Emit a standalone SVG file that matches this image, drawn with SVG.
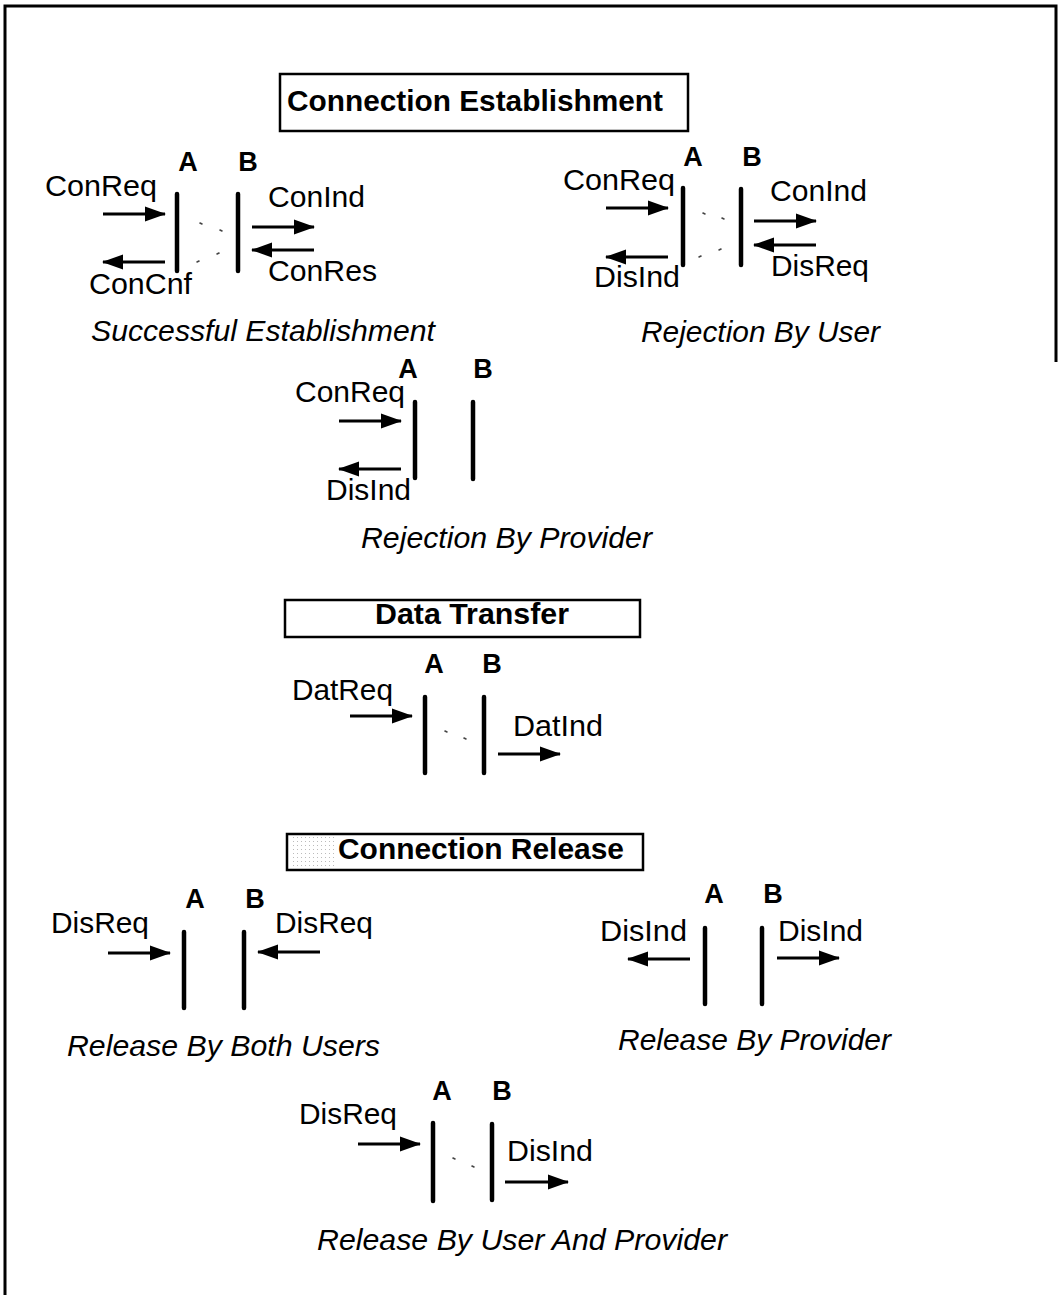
<svg xmlns="http://www.w3.org/2000/svg" width="1059" height="1295" viewBox="0 0 1059 1295">
  <defs>
    <marker id="head" markerUnits="userSpaceOnUse" markerWidth="21" markerHeight="16" refX="20" refY="8" orient="auto">
      <path d="M0,0.5 L21,8 L0,15.5 z" fill="#000"/>
    </marker>
    <pattern id="stipple" width="4" height="4" patternUnits="userSpaceOnUse">
      <rect x="1" y="1" width="1" height="1" fill="#bbb"/>
    </pattern>
    <style>
      .frame { fill: none; stroke: #000; stroke-width: 3; }
      .title-box { fill: #fff; stroke: #000; stroke-width: 2.5; }
      .title { font-family: "Liberation Sans", Arial, sans-serif; font-weight: bold; font-size: 29px; fill: #000; }
      .ab { font-family: "Liberation Sans", Arial, sans-serif; font-weight: bold; font-size: 27px; fill: #000; text-anchor: middle; }
      .lbl { font-family: "Liberation Sans", Arial, sans-serif; font-size: 29px; fill: #000; }
      .cap { font-family: "Liberation Sans", Arial, sans-serif; font-style: italic; font-size: 29px; fill: #000; }
      .bar { stroke: #000; stroke-width: 4.5; stroke-linecap: round; }
      .arrow { stroke: #000; stroke-width: 3; fill: none; marker-end: url(#head); }
      .dot { stroke: #444; stroke-width: 1.6; stroke-linecap: round; }
    </style>
  </defs>

  <rect width="1059" height="1295" fill="#fff"/>

  <!-- outer frame: top, left and upper right edge -->
  <path class="frame" d="M5,1295 L5,6 L1056,6 L1056,362"/>

  <!-- section headings -->
  <g id="heading-establishment">
    <rect class="title-box" x="280" y="74" width="408" height="57"/>
    <text class="title" x="287" y="111" textLength="376" lengthAdjust="spacingAndGlyphs">Connection Establishment</text>
  </g>
  <g id="heading-transfer">
    <rect class="title-box" x="285" y="600" width="355" height="37"/>
    <text class="title" x="375" y="624" textLength="194" lengthAdjust="spacingAndGlyphs">Data Transfer</text>
  </g>
  <g id="heading-release">
    <rect class="title-box" x="287" y="834" width="356" height="36"/>
    <rect x="290" y="837" width="46" height="30" fill="url(#stipple)"/>
    <text class="title" x="338" y="859" textLength="286" lengthAdjust="spacingAndGlyphs">Connection Release</text>
  </g>

  <!-- Successful Establishment -->
  <g id="successful-establishment">
    <text class="ab" x="188" y="171">A</text>
    <text class="ab" x="248" y="171">B</text>
    <line class="bar" x1="177" y1="194" x2="177" y2="271"/>
    <line class="bar" x1="238" y1="194" x2="238" y2="271"/>
    <text class="lbl" x="45" y="196" textLength="112" lengthAdjust="spacingAndGlyphs">ConReq</text>
    <text class="lbl" x="89" y="294" textLength="103" lengthAdjust="spacingAndGlyphs">ConCnf</text>
    <text class="lbl" x="268" y="207" textLength="97" lengthAdjust="spacingAndGlyphs">ConInd</text>
    <text class="lbl" x="268" y="281" textLength="109" lengthAdjust="spacingAndGlyphs">ConRes</text>
    <text class="cap" x="91" y="341" textLength="344" lengthAdjust="spacingAndGlyphs">Successful Establishment</text>
  </g>

  <!-- Rejection By User -->
  <g id="rejection-by-user">
    <text class="ab" x="693" y="166">A</text>
    <text class="ab" x="752" y="166">B</text>
    <line class="bar" x1="683" y1="188" x2="683" y2="265"/>
    <line class="bar" x1="741" y1="189" x2="741" y2="265"/>
    <text class="lbl" x="563" y="190" textLength="112" lengthAdjust="spacingAndGlyphs">ConReq</text>
    <text class="lbl" x="594" y="287" textLength="86" lengthAdjust="spacingAndGlyphs">DisInd</text>
    <text class="lbl" x="770" y="201" textLength="97" lengthAdjust="spacingAndGlyphs">ConInd</text>
    <text class="lbl" x="771" y="276" textLength="98" lengthAdjust="spacingAndGlyphs">DisReq</text>
    <text class="cap" x="641" y="342" textLength="239" lengthAdjust="spacingAndGlyphs">Rejection By User</text>
  </g>

  <!-- Rejection By Provider -->
  <g id="rejection-by-provider">
    <text class="ab" x="408" y="378">A</text>
    <text class="ab" x="483" y="378">B</text>
    <line class="bar" x1="415" y1="402" x2="415" y2="478"/>
    <line class="bar" x1="473" y1="402" x2="473" y2="479"/>
    <text class="lbl" x="295" y="402" textLength="110" lengthAdjust="spacingAndGlyphs">ConReq</text>
    <text class="lbl" x="326" y="500" textLength="85" lengthAdjust="spacingAndGlyphs">DisInd</text>
    <text class="cap" x="361" y="548" textLength="291" lengthAdjust="spacingAndGlyphs">Rejection By Provider</text>
  </g>

  <!-- Data Transfer -->
  <g id="data-transfer">
    <text class="ab" x="434" y="673">A</text>
    <text class="ab" x="492" y="673">B</text>
    <line class="bar" x1="425" y1="697" x2="425" y2="773"/>
    <line class="bar" x1="484" y1="697" x2="484" y2="773"/>
    <text class="lbl" x="292" y="700" textLength="101" lengthAdjust="spacingAndGlyphs">DatReq</text>
    <text class="lbl" x="513" y="736" textLength="90" lengthAdjust="spacingAndGlyphs">DatInd</text>
  </g>

  <!-- Release By Both Users -->
  <g id="release-by-both-users">
    <text class="ab" x="195" y="908">A</text>
    <text class="ab" x="255" y="908">B</text>
    <line class="bar" x1="184" y1="932" x2="184" y2="1008"/>
    <line class="bar" x1="244" y1="932" x2="244" y2="1008"/>
    <text class="lbl" x="51" y="933" textLength="98" lengthAdjust="spacingAndGlyphs">DisReq</text>
    <text class="lbl" x="275" y="933" textLength="98" lengthAdjust="spacingAndGlyphs">DisReq</text>
    <text class="cap" x="67" y="1056" textLength="313" lengthAdjust="spacingAndGlyphs">Release By Both Users</text>
  </g>

  <!-- Release By Provider -->
  <g id="release-by-provider">
    <text class="ab" x="714" y="903">A</text>
    <text class="ab" x="773" y="903">B</text>
    <line class="bar" x1="705" y1="928" x2="705" y2="1004"/>
    <line class="bar" x1="762" y1="928" x2="762" y2="1004"/>
    <text class="lbl" x="600" y="941" textLength="87" lengthAdjust="spacingAndGlyphs">DisInd</text>
    <text class="lbl" x="778" y="941" textLength="85" lengthAdjust="spacingAndGlyphs">DisInd</text>
    <text class="cap" x="618" y="1050" textLength="273" lengthAdjust="spacingAndGlyphs">Release By Provider</text>
  </g>

  <!-- Release By User And Provider -->
  <g id="release-by-user-and-provider">
    <text class="ab" x="442" y="1100">A</text>
    <text class="ab" x="502" y="1100">B</text>
    <line class="bar" x1="433" y1="1123" x2="433" y2="1201"/>
    <line class="bar" x1="492" y1="1124" x2="492" y2="1200"/>
    <text class="lbl" x="299" y="1124" textLength="98" lengthAdjust="spacingAndGlyphs">DisReq</text>
    <text class="lbl" x="507" y="1161" textLength="86" lengthAdjust="spacingAndGlyphs">DisInd</text>
    <text class="cap" x="317" y="1250" textLength="410" lengthAdjust="spacingAndGlyphs">Release By User And Provider</text>
  </g>

  <!-- primitive arrows and faint dotted links between A and B -->
  <g id="connectors">
    <line class="arrow" x1="103" y1="214" x2="165" y2="214"/>
    <line class="arrow" x1="165" y1="262" x2="103" y2="262"/>
    <line class="arrow" x1="252" y1="227" x2="314" y2="227"/>
    <line class="arrow" x1="314" y1="250" x2="252" y2="250"/>
    <line class="dot" x1="200" y1="223" x2="202" y2="224"/>
    <line class="dot" x1="220" y1="230" x2="222" y2="231"/>
    <line class="dot" x1="197" y1="262" x2="199" y2="261"/>
    <line class="dot" x1="217" y1="254" x2="219" y2="253"/>

    <line class="arrow" x1="606" y1="208" x2="668" y2="208"/>
    <line class="arrow" x1="668" y1="257" x2="606" y2="257"/>
    <line class="arrow" x1="754" y1="221" x2="816" y2="221"/>
    <line class="arrow" x1="816" y1="245" x2="754" y2="245"/>
    <line class="dot" x1="703" y1="213" x2="705" y2="214"/>
    <line class="dot" x1="722" y1="218" x2="724" y2="219"/>
    <line class="dot" x1="699" y1="257" x2="701" y2="256"/>
    <line class="dot" x1="719" y1="250" x2="721" y2="249"/>

    <line class="arrow" x1="339" y1="421" x2="401" y2="421"/>
    <line class="arrow" x1="401" y1="469" x2="339" y2="469"/>

    <line class="arrow" x1="350" y1="716" x2="412" y2="716"/>
    <line class="arrow" x1="498" y1="754" x2="560" y2="754"/>
    <line class="dot" x1="445" y1="731" x2="447" y2="732"/>
    <line class="dot" x1="464" y1="738" x2="466" y2="739"/>

    <line class="arrow" x1="108" y1="953" x2="170" y2="953"/>
    <line class="arrow" x1="320" y1="952" x2="258" y2="952"/>

    <line class="arrow" x1="690" y1="959" x2="628" y2="959"/>
    <line class="arrow" x1="777" y1="958" x2="839" y2="958"/>

    <line class="arrow" x1="358" y1="1144" x2="420" y2="1144"/>
    <line class="arrow" x1="505" y1="1182" x2="568" y2="1182"/>
    <line class="dot" x1="453" y1="1158" x2="455" y2="1159"/>
    <line class="dot" x1="472" y1="1166" x2="474" y2="1167"/>
  </g>
</svg>
